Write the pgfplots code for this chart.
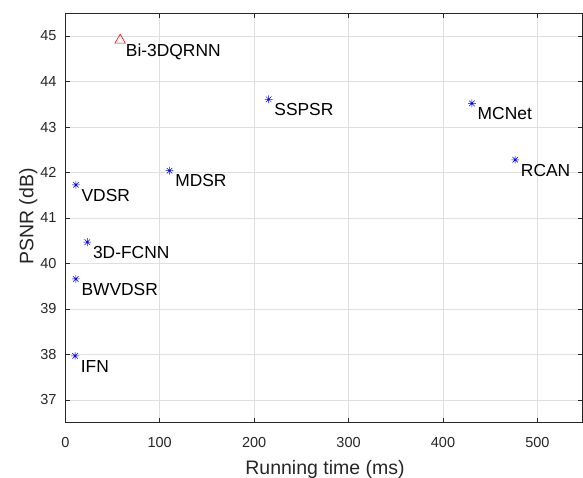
\documentclass[border=0pt]{standalone}
\usepackage{fontspec}
\setmainfont{Liberation Sans}
\usepackage{pgfplots}
\pgfplotsset{compat=1.18}

\definecolor{axgray}{RGB}{38,38,38}
\definecolor{gridgray}{RGB}{223,223,223}

% MATLAB-style '*' marker: plus and cross together
\pgfdeclareplotmark{mstar}{%
  \pgfpathmoveto{\pgfpoint{-\pgfplotmarksize}{0pt}}%
  \pgfpathlineto{\pgfpoint{\pgfplotmarksize}{0pt}}%
  \pgfpathmoveto{\pgfpoint{0pt}{-\pgfplotmarksize}}%
  \pgfpathlineto{\pgfpoint{0pt}{\pgfplotmarksize}}%
  \pgfpathmoveto{\pgfpoint{-.707\pgfplotmarksize}{-.707\pgfplotmarksize}}%
  \pgfpathlineto{\pgfpoint{.707\pgfplotmarksize}{.707\pgfplotmarksize}}%
  \pgfpathmoveto{\pgfpoint{-.707\pgfplotmarksize}{.707\pgfplotmarksize}}%
  \pgfpathlineto{\pgfpoint{.707\pgfplotmarksize}{-.707\pgfplotmarksize}}%
  \pgfusepathqstroke}

\begin{document}
\begin{tikzpicture}
\path[use as bounding box] (-65.3pt,-54.3pt) rectangle (517.7pt,422.7pt);
\begin{axis}[
    scale only axis,
    width=517.4pt, height=409.4pt,
    xmin=0, xmax=548,
    ymin=36.5, ymax=45.5,
    xtick={0,100,...,500},
    ytick={37,38,...,45},
    tick align=inside,
    major tick length=5pt,
    grid=major,
    grid style={gridgray, line width=0.7pt},
    axis line style={axgray, line width=0.8pt},
    every tick/.style={axgray, line width=0.8pt},
    /pgf/number format/assume math mode=true,
    tick label style={font=\fontsize{14.5}{16}\selectfont, text=axgray},
    xticklabel style={inner sep=0pt, yshift=-14.3pt},
    yticklabel style={inner sep=0pt, xshift=-8.6pt},
    xlabel={Running time (ms)},
    ylabel={PSNR (dB)},
    label style={font=\fontsize{19.5}{22}\selectfont, text=axgray},
    xlabel style={at={(axis description cs:0.502,-0.126)}, anchor=base, inner sep=0pt},
    ylabel style={at={(axis description cs:-0.0619,0.504)}, anchor=base, inner sep=0pt},
    clip=false,
    nodes near coords,
    point meta=explicit symbolic,
    nodes near coords style={font=\fontsize{17.4}{20}\selectfont, text=black,
        anchor=base west, inner sep=0pt, xshift=5.5pt, yshift=-16.3pt},
]
\addplot[only marks, mark=mstar, mark size=3.9pt, blue, line width=0.5pt]
    coordinates {
    (215.4,43.61) [SSPSR]
    (110.4,42.04) [MDSR]
    (11.2,41.73) [VDSR]
    (23.3,40.47) [3D-FCNN]
    (11.1,39.66) [BWVDSR]
    (10.4,37.97) [IFN]
    (430.7,43.52) [MCNet]
    (476.5,42.28) [RCAN]
    };
\addplot[only marks, mark=triangle, mark size=6pt, red, line width=0.6pt]
    coordinates {(58.1,44.91) [Bi-3DQRNN]};
\end{axis}
\end{tikzpicture}
\end{document}
